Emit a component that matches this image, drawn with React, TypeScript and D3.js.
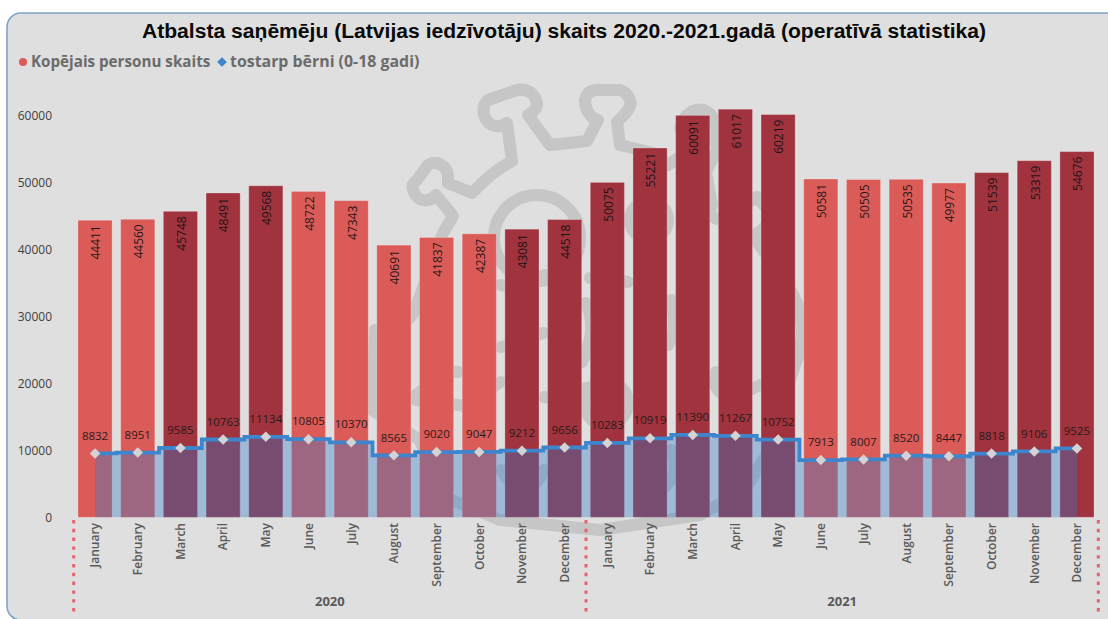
import React from "react";
import * as d3 from "d3";

const titleText = "Atbalsta saņēmēju (Latvijas iedzīvotāju) skaits 2020.-2021.gadā (operatīvā statistika)";
const seriesNames = ["Kopējais personu skaits", "tostarp bērni (0-18 gadi)"];
const months = ["January","February","March","April","May","June","July","August","September","October","November","December"];
const years = ["2020", "2021"];
const totals = [44411,44560,45748,48491,49568,48722,47343,40691,41837,42387,43081,44518,50075,55221,60091,61017,60219,50581,50505,50535,49977,51539,53319,54676];
const children = [8832,8951,9585,10763,11134,10805,10370,8565,9020,9047,9212,9656,10283,10919,11390,11267,10752,7913,8007,8520,8447,8818,9106,9525];
const tones = [0,0,1,1,1,0,0,0,0,0,1,1,1,1,1,1,1,0,0,0,0,1,1,1];
const toneColors = ["#DB5B58", "#A0333E"];
const yTicks = [0,10000,20000,30000,40000,50000,60000];

const W = 1108, H = 619;
const left = 73.7, right = 1098.3, base = 517.3, top60 = 116;
const FONT = "'Open Sans', sans-serif";

const virusOutline =
  "M443 233 L453 216 L436 195 C430 202 418 204 413 190 C411 184 414 183 417 180 L428 165 C436 160 448 165 448 177 L448 183 L472 193 C485 180 495 170 512 161 L507 123 C500 128 488 128 484 115 C482 105 486 102 488 100 L517 90 C528 88 537 95 537 105 C536 110 532 113 528 115 L550 145 L587 141 L598 120 C590 118 585 110 585 100 C587 92 592 90 597 90 L620 90 C628 92 632 102 630 106 C628 112 624 115 617 122 L620 145 L653 153 L668 165 L690 150 L680 128 C684 112 696 108 704 110 C714 114 718 125 716 140 L717 150 L706 172 L712 205 C706 215 716 222 724 218 L757 197 L768 210 C772 222 762 232 753 235 C770 262 790 285 797 303 C804 325 803 345 796 362 L790 380 L770 405 L775 440 L745 490 L700 515 L600 530 L500 520 L440 495 L420 440 L372 410 L375 335 L415 310 L432 262 L443 233";
const innerLines = [
  "M375 330 C390 338 405 325 416 310",
  "M416 395 C430 385 445 370 458 372",
  "M416 400 L458 405 C480 410 490 385 501 382",
  "M501 347 C520 345 530 335 544 333",
  "M544 397 C560 400 570 392 586 388",
  "M586 303 C596 325 590 345 582 362",
  "M501 470 C520 500 535 490 544 470",
  "M671 300 C676 320 675 335 668 345",
  "M671 450 C680 470 670 485 660 490",
  "M628 282 L590 278",
  "M716 372 C710 385 720 400 740 395 L760 385",
  "M500 285 C520 290 530 280 545 275"
];
const innerCircles = [
  { cx: 537, cy: 238, r: 43 },
  { cx: 649, cy: 220, r: 19 },
  { cx: 606, cy: 403, r: 22 }
];

export default function App() {
  const categories = d3.range(totals.length).map(String);
  const x = d3.scaleBand<string>().domain(categories).range([left, right]).paddingInner(0.2).paddingOuter(0.1);
  const xc = (i: number) => (x(String(i)) as number) + x.bandwidth() / 2;
  const y = d3.scaleLinear().domain([0, 60000]).range([base, top60]);
  const y2 = d3.scaleLinear().domain([0, 60000 / 1.081]).range([base, top60]);

  const area = d3.area<number>().x((_, i) => xc(i)).y0(base).y1((d) => y2(d)).curve(d3.curveStep);
  const line = d3.line<number>().x((_, i) => xc(i)).y((d) => y2(d)).curve(d3.curveStep);
  const yearSep = [left, (left + right) / 2, right];

  return (
    <svg width={W} height={H} viewBox={`0 0 ${W} ${H}`}
      style={{ position: "absolute", left: 0, top: 0, background: "#fff", fontFamily: FONT }}>
      <rect x={7} y={13} width={1125} height={607} rx={14} fill="#DFDFDF" stroke="#7FA4C9" strokeWidth={1.6} />

      <g fill="none" stroke="#C6C6C6" strokeWidth={12} strokeLinejoin="round" strokeLinecap="round">
        <path d={virusOutline} />
        {innerLines.map((d, i) => <path key={i} d={d} />)}
        {innerCircles.map((c, i) => <circle key={i} cx={c.cx} cy={c.cy} r={c.r} />)}
      </g>

      <text x={564} y={38} textAnchor="middle" fontFamily="'Liberation Sans', Arial, sans-serif"
        fontWeight={700} fontSize={21.1} fill="#0a0a0a">{titleText}</text>

      <circle cx={23} cy={62} r={4} fill="#DB5B58" />
      <text x={31} y={67} fontWeight={700} fontSize={15.2} fill="#6B6B6B">{seriesNames[0]}</text>
      <path d={d3.symbol().type(d3.symbolDiamond2).size(60)() as string} transform="translate(222,62)" fill="#3D85CC" />
      <text x={230} y={67} fontWeight={700} fontSize={15.9} fill="#6B6B6B">{seriesNames[1]}</text>

      {yTicks.map((t) => (
        <text key={t} x={52} y={y(t)} dy="0.36em" textAnchor="end" fontSize={12} fill="#404040">{t}</text>
      ))}

      {totals.map((v, i) => (
        <rect key={i} x={x(String(i))} y={y(v)} width={x.bandwidth()} height={base - y(v)}
          fill={toneColors[tones[i]]} stroke="#fff" strokeOpacity={0.25} strokeWidth={1} />
      ))}

      {totals.map((v, i) => (
        <text key={i} transform={`translate(${xc(i) + 1},${y(v) + 5}) rotate(-90)`} textAnchor="end"
          dy="0.36em" fontSize={12} fill="#111" fillOpacity={0.95}>{v}</text>
      ))}

      <path d={area(children) as string} fill="#307BCB" fillOpacity={0.36} />
      <path d={line(children) as string} fill="none" stroke="#3D85CC" strokeWidth={3.8} />

      {children.map((v, i) => (
        <path key={i} d={d3.symbol().type(d3.symbolDiamond2).size(70)() as string}
          transform={`translate(${xc(i)},${y2(v)})`} fill="#D3D3D3" />
      ))}
      {children.map((v, i) => (
        <text key={i} x={xc(i)} y={y2(v) - 18} dy="0.36em" textAnchor="middle" fontSize={11.5} fill="#2a1a1a">{v}</text>
      ))}

      {totals.map((_, i) => (
        <text key={i} transform={`translate(${xc(i)},523) rotate(-90)`} textAnchor="end" dy="0.36em"
          fontSize={12} fontWeight={600} fill="#595959">{months[i % 12]}</text>
      ))}
      {years.map((yr, i) => (
        <text key={yr} x={(yearSep[i] + yearSep[i + 1]) / 2} y={606} textAnchor="middle"
          fontSize={13} fontWeight={700} fill="#595959">{yr}</text>
      ))}
      {yearSep.map((sx) => (
        <line key={sx} x1={sx} x2={sx} y1={520} y2={613} stroke="#E8626E" strokeWidth={3} strokeDasharray="3.4 5.4" />
      ))}
    </svg>
  );
}
